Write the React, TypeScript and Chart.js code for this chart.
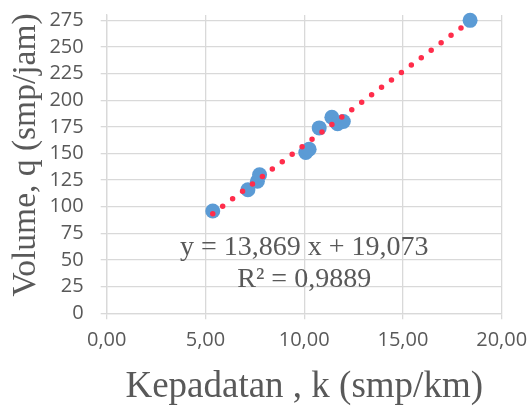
import { useEffect, useRef } from 'react';
import { Chart, registerables } from 'chart.js';

Chart.register(...registerables);

// Data
const densityK = [5.37, 7.15, 7.63, 7.74, 10.08, 10.25, 10.76, 11.4, 11.69, 11.98, 18.4];
const volumeQ = [96, 116, 124, 130, 151, 154, 174, 184, 178, 180, 275];
const trendSlope = 13.869;
const trendIntercept = 19.073;
const equationText = 'y = 13,869 x + 19,073';
const rSquaredText = 'R² = 0,9889';
const xAxisTitle = 'Kepadatan , k (smp/km)';
const yAxisTitle = 'Volume, q (smp/jam)';
const xRange = [0, 20];
const yRange = [0, 280];
const xTickValues = [0, 5, 10, 15, 20];
const yTickValues = [0, 25, 50, 75, 100, 125, 150, 175, 200, 225, 250, 275];

const formatX = (v: number) => v.toFixed(2).replace('.', ',');

export default function App() {
  const ref = useRef<HTMLCanvasElement | null>(null);

  useEffect(() => {
    if (!ref.current) return;
    const kMin = Math.min(...densityK);
    const kMax = Math.max(...densityK);
    const trend = [kMin, kMax].map((k) => ({ x: k, y: trendSlope * k + trendIntercept }));
    const points = densityK.map((k, i) => ({ x: k, y: volumeQ[i] }));

    const labelPlugin = {
      id: 'eqLabel',
      afterDraw(chart: any) {
        const ctx = chart.ctx;
        const xs = chart.scales.x;
        ctx.save();
        ctx.fillStyle = '#595959';
        ctx.font = '28px "Liberation Serif"';
        ctx.textAlign = 'center';
        ctx.textBaseline = 'middle';
        const cx = xs.getPixelForValue(10);
        ctx.fillText(equationText, cx, 248);
        ctx.fillText(rSquaredText, cx, 280);
        // y axis title
        ctx.font = '33.5px "Liberation Serif"';
        ctx.translate(26, 155);
        ctx.rotate(-Math.PI / 2);
        ctx.fillText(yAxisTitle, 0, 0);
        ctx.restore();
      },
    };

    const chart = new Chart(ref.current, {
      type: 'scatter',
      data: {
        datasets: [
          {
            type: 'line',
            data: trend,
            borderColor: '#FF2D4B',
            borderWidth: 5.5,
            borderDash: [0, 12.4],
            borderCapStyle: 'round',
            pointRadius: 0,
            fill: false,
            clip: false,
            order: 0,
          } as any,
          {
            data: points,
            backgroundColor: '#5B9BD5',
            borderWidth: 0,
            pointRadius: 7.5,
            clip: false,
            order: 1,
          } as any,
        ],
      },
      options: {
        animation: false,
        responsive: false,
        layout: { padding: { left: 0, right: 28.3, top: 15, bottom: 0 } },
        plugins: { legend: { display: false }, tooltip: { enabled: false } },
        scales: {
          x: {
            type: 'linear',
            min: xRange[0],
            max: xRange[1],
            ticks: {
              color: '#595959',
              font: { family: '"Open Sans"', size: 20 },
              padding: 9,
              callback: (v: any) => formatX(Number(v)),
            },
            afterBuildTicks: (s: any) => {
              s.ticks = xTickValues.map((v) => ({ value: v }));
            },
            grid: { color: '#d9d9d9', lineWidth: 1.3, tickLength: 6 },
            border: { color: '#d9d9d9', width: 1.3 },
            title: {
              display: true,
              text: xAxisTitle,
              color: '#595959',
              font: { family: '"Liberation Serif"', size: 37 },
              padding: { top: 0, bottom: 1 },
            },
            afterFit: (s: any) => {
              s.height = 96.7;
              s.paddingLeft = 0;
              s.paddingRight = 0;
            },
          },
          y: {
            type: 'linear',
            min: yRange[0],
            max: yRange[1],
            ticks: {
              color: '#595959',
              font: { family: '"Open Sans"', size: 20 },
              padding: 17,
            },
            afterBuildTicks: (s: any) => {
              s.ticks = yTickValues.map((v) => ({ value: v }));
            },
            grid: { color: '#d9d9d9', lineWidth: 1.3, tickLength: 6 },
            border: { color: '#d9d9d9', width: 1.3 },
            afterFit: (s: any) => {
              s.width = 106.7;
              s.paddingTop = 0;
              s.paddingBottom = 0;
            },
          },
        },
      },
      plugins: [labelPlugin],
    });
    return () => chart.destroy();
  }, []);

  return (
    <div style={{ position: 'absolute', left: 0, top: 0, width: 530, height: 410 }}>
      <canvas ref={ref} width={530} height={410} style={{ width: 530, height: 410 }} />
    </div>
  );
}
